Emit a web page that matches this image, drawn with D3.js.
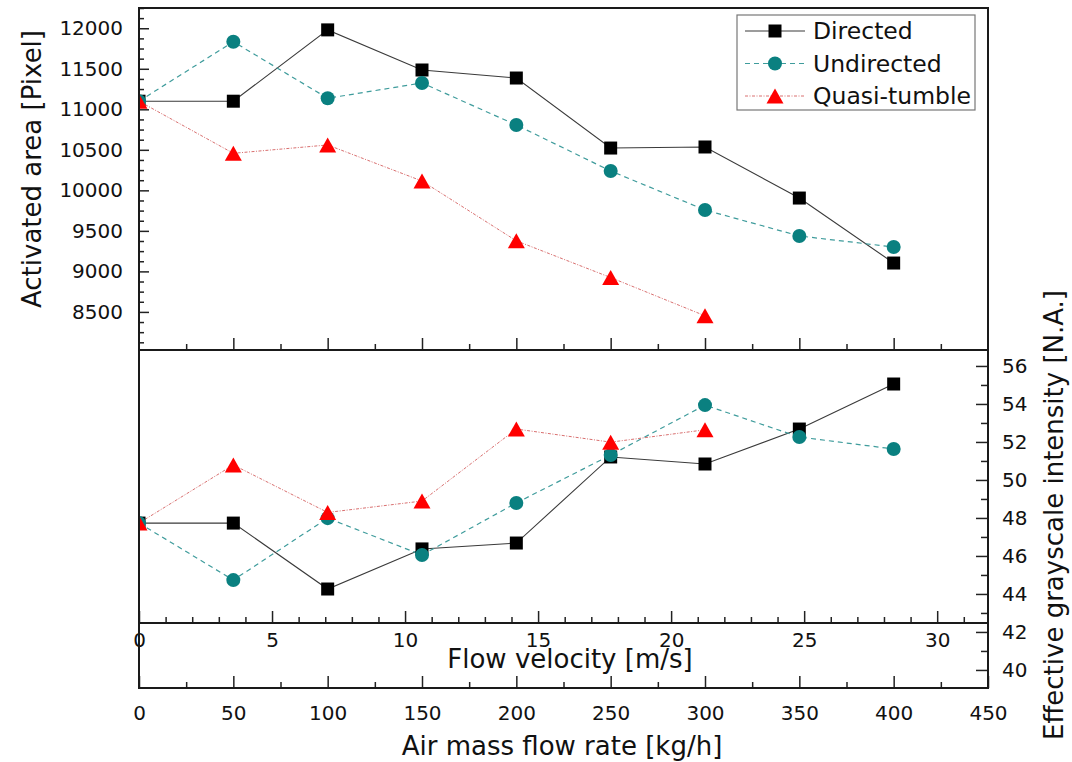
<!DOCTYPE html>
<html>
<head>
<meta charset="utf-8">
<script src="https://cdn.jsdelivr.net/npm/d3@7"></script>
<style>
  body { margin: 0; background: #fff; }
  text { font-family: "DejaVu Sans", sans-serif; fill: #111; }
</style>
</head>
<body>
<svg id="chart" width="1072" height="762"></svg>
<script>
// Air mass flow rate [kg/h] at each operating point
const massFlow = [0, 50, 100, 150, 200, 250, 300, 350, 400];

// Activated area [Pixel]
const areaDirected   = [11100, 11100, 11980, 11485, 11386, 10522, 10535, 9905, 9103];
const areaUndirected = [11100, 11834, 11136, 11325, 10806, 10239, 9758, 9437, 9301];
const areaQuasi      = [11100, 10457, 10560, 10115, 9377, 8924, 8452];

// Effective grayscale intensity [N.A.]
const grayDirected   = [47.73, 47.73, 44.26, 46.37, 46.68, 51.21, 50.84, 52.68, 55.05];
const grayUndirected = [47.73, 44.73, 47.99, 46.05, 48.79, 51.31, 53.94, 52.26, 51.63];
const grayQuasi      = [47.73, 50.79, 48.29, 48.89, 52.68, 51.99, 52.64];

const seriesNames = ["Directed", "Undirected", "Quasi-tumble"];

// Tick values
const massTicks      = [0, 50, 100, 150, 200, 250, 300, 350, 400, 450];
const velocityTicks  = [0, 5, 10, 15, 20, 25, 30];
const areaTicks      = [8500, 9000, 9500, 10000, 10500, 11000, 11500, 12000];
const grayTicks      = [40, 42, 44, 46, 48, 50, 52, 54, 56];

// Axis ranges
const massDomain     = [0, 450];
const velocityDomain = [0, 31.91];   // 450 kg/h corresponds to ~31.9 m/s
const areaDomain     = [8030, 12250];
const grayDomain     = [39.05, 56.84];

const svg = d3.select("#chart");

// Frame geometry
const L = 139, R = 988, T = 8, MID = 350, VEL = 623, B = 688;

const x  = d3.scaleLinear().domain(massDomain).range([L, R]);
const xv = d3.scaleLinear().domain(velocityDomain).range([L, R]);
const yA = d3.scaleLinear().domain(areaDomain).range([MID, T]);
const yG = d3.scaleLinear().domain(grayDomain).range([B, MID]);

const styles = [
  { line: "#3a3a3a", dash: null,      width: 1.1, fill: "#000000", shape: "square" },
  { line: "#3f9c9c", dash: "5,4",     width: 1.2, fill: "#0a8080", shape: "circle" },
  { line: "#d97070", dash: "3,1.5,1,1.5", width: 1.0, fill: "#ff0000", shape: "triangle" }
];

// Triangle centred on its bounding box
const triBox = {
  draw(ctx, size) {
    const w = Math.sqrt(size), h = w * 0.88;
    ctx.moveTo(0, -h / 2);
    ctx.lineTo(w / 2, h / 2);
    ctx.lineTo(-w / 2, h / 2);
    ctx.closePath();
  }
};
function markerPath(shape) {
  if (shape === "square") return d3.symbol(d3.symbolSquare, 13 * 13)();
  if (shape === "circle") return d3.symbol(d3.symbolCircle, Math.PI * 7 * 7)();
  return d3.symbol(triBox, 17 * 17)();
}

function minorRange(a, b, step) {
  return d3.range(a, b + step / 2, step);
}

// Clip regions for the two panels
const defs = svg.append("defs");
defs.append("clipPath").attr("id", "clip-top")
  .append("rect").attr("x", L).attr("y", T).attr("width", R - L).attr("height", MID - T);
defs.append("clipPath").attr("id", "clip-bottom")
  .append("rect").attr("x", L).attr("y", MID).attr("width", R - L).attr("height", VEL - MID);

// ---------- axes ----------
function styleAxis(g) {
  g.select(".domain").remove();
  g.selectAll(".tick line").attr("stroke", "#222").attr("stroke-width", 1.5);
  g.selectAll(".tick text").attr("font-size", 20).attr("fill", "#111");
}

// upper panel: left axis (area)
svg.append("g").attr("transform", `translate(${L},0)`)
  .call(d3.axisLeft(yA).tickValues(minorRange(8125, 12250, 125).filter(v => v % 500 !== 0))
        .tickSize(-5).tickFormat(""))
  .call(styleAxis);
svg.append("g").attr("transform", `translate(${L},0)`)
  .call(d3.axisLeft(yA).tickValues(areaTicks).tickSize(-10).tickPadding(16).tickFormat(d3.format("d")))
  .call(styleAxis);

// upper panel: bottom ticks (mass flow, no labels)
svg.append("g").attr("transform", `translate(0,${MID})`)
  .call(d3.axisBottom(x).tickValues(minorRange(25, 425, 50)).tickSize(-6).tickFormat(""))
  .call(styleAxis);
svg.append("g").attr("transform", `translate(0,${MID})`)
  .call(d3.axisBottom(x).tickValues(massTicks.filter(v => v > 0 && v < 450)).tickSize(-12).tickFormat(""))
  .call(styleAxis);

// lower panel: velocity axis
svg.append("g").attr("transform", `translate(0,${VEL})`)
  .call(d3.axisBottom(xv).tickValues(d3.range(1, 32).filter(v => v % 5 !== 0)).tickSize(-6).tickFormat(""))
  .call(styleAxis);
svg.append("g").attr("transform", `translate(0,${VEL})`)
  .call(d3.axisBottom(xv).tickValues(velocityTicks).tickSize(-12).tickPadding(10).tickFormat(d3.format("d")))
  .call(styleAxis);

// lower panel: mass flow axis
svg.append("g").attr("transform", `translate(0,${B})`)
  .call(d3.axisBottom(x).tickValues(minorRange(25, 425, 50)).tickSize(-6).tickFormat(""))
  .call(styleAxis);
svg.append("g").attr("transform", `translate(0,${B})`)
  .call(d3.axisBottom(x).tickValues(massTicks).tickSize(-12).tickPadding(18).tickFormat(d3.format("d")))
  .call(styleAxis);

// lower panel: right axis (grayscale)
svg.append("g").attr("transform", `translate(${R},0)`)
  .call(d3.axisRight(yG).tickValues(d3.range(41, 57, 2)).tickSize(-7).tickFormat(""))
  .call(styleAxis);
svg.append("g").attr("transform", `translate(${R},0)`)
  .call(d3.axisRight(yG).tickValues(grayTicks).tickSize(-12).tickPadding(14).tickFormat(d3.format("d")))
  .call(styleAxis);

// ---------- data ----------
function drawPanel(ys, seriesSets, clipId) {
  const g = svg.append("g").attr("clip-path", `url(#${clipId})`);
  seriesSets.forEach((vals, i) => {
    const st = styles[i];
    const pts = vals.map((v, j) => [massFlow[j], v]);
    g.append("path")
      .datum(pts)
      .attr("fill", "none")
      .attr("stroke", st.line)
      .attr("stroke-width", st.width)
      .attr("stroke-dasharray", st.dash)
      .attr("d", d3.line().x(d => x(d[0])).y(d => ys(d[1])));
  });
  seriesSets.forEach((vals, i) => {
    const st = styles[i];
    g.append("g").selectAll("path")
      .data(vals.map((v, j) => [massFlow[j], v]))
      .join("path")
      .attr("transform", d => `translate(${x(d[0])},${ys(d[1])})`)
      .attr("d", markerPath(st.shape))
      .attr("fill", st.fill);
  });
}
drawPanel(yA, [areaDirected, areaUndirected, areaQuasi], "clip-top");
drawPanel(yG, [grayDirected, grayUndirected, grayQuasi], "clip-bottom");

// ---------- frame ----------
const frame = svg.append("g").attr("fill", "none").attr("stroke", "#1a1a1a");
frame.append("rect").attr("x", L).attr("y", T).attr("width", R - L).attr("height", B - T).attr("stroke-width", 2);
frame.append("line").attr("x1", L).attr("x2", R).attr("y1", MID).attr("y2", MID).attr("stroke-width", 2);
frame.append("line").attr("x1", L).attr("x2", R).attr("y1", VEL).attr("y2", VEL).attr("stroke-width", 2);

// ---------- legend ----------
const lg = svg.append("g");
lg.append("rect").attr("x", 737).attr("y", 15).attr("width", 238).attr("height", 95)
  .attr("fill", "#fff").attr("stroke", "#777").attr("stroke-width", 1.2);
seriesNames.forEach((name, i) => {
  const st = styles[i];
  const cy = 31 + i * 32.5;
  lg.append("line").attr("x1", 745).attr("x2", 805).attr("y1", cy).attr("y2", cy)
    .attr("stroke", st.line).attr("stroke-width", st.width).attr("stroke-dasharray", st.dash);
  lg.append("path").attr("transform", `translate(775,${cy})`).attr("d", markerPath(st.shape)).attr("fill", st.fill);
  lg.append("text").attr("x", 813).attr("y", cy).attr("dy", "0.36em").attr("font-size", 23.5).text(name);
});

// ---------- axis titles ----------
svg.append("text").attr("transform", "translate(41,169) rotate(-90)")
  .attr("text-anchor", "middle").attr("font-size", 26).text("Activated area [Pixel]");
svg.append("text").attr("transform", "translate(1063,515) rotate(-90)")
  .attr("text-anchor", "middle").attr("font-size", 26).text("Effective grayscale intensity [N.A.]");
svg.append("text").attr("x", 570).attr("y", 668)
  .attr("text-anchor", "middle").attr("font-size", 26).text("Flow velocity [m/s]");
svg.append("text").attr("x", 562).attr("y", 755)
  .attr("text-anchor", "middle").attr("font-size", 26).text("Air mass flow rate [kg/h]");
</script>
</body>
</html>
